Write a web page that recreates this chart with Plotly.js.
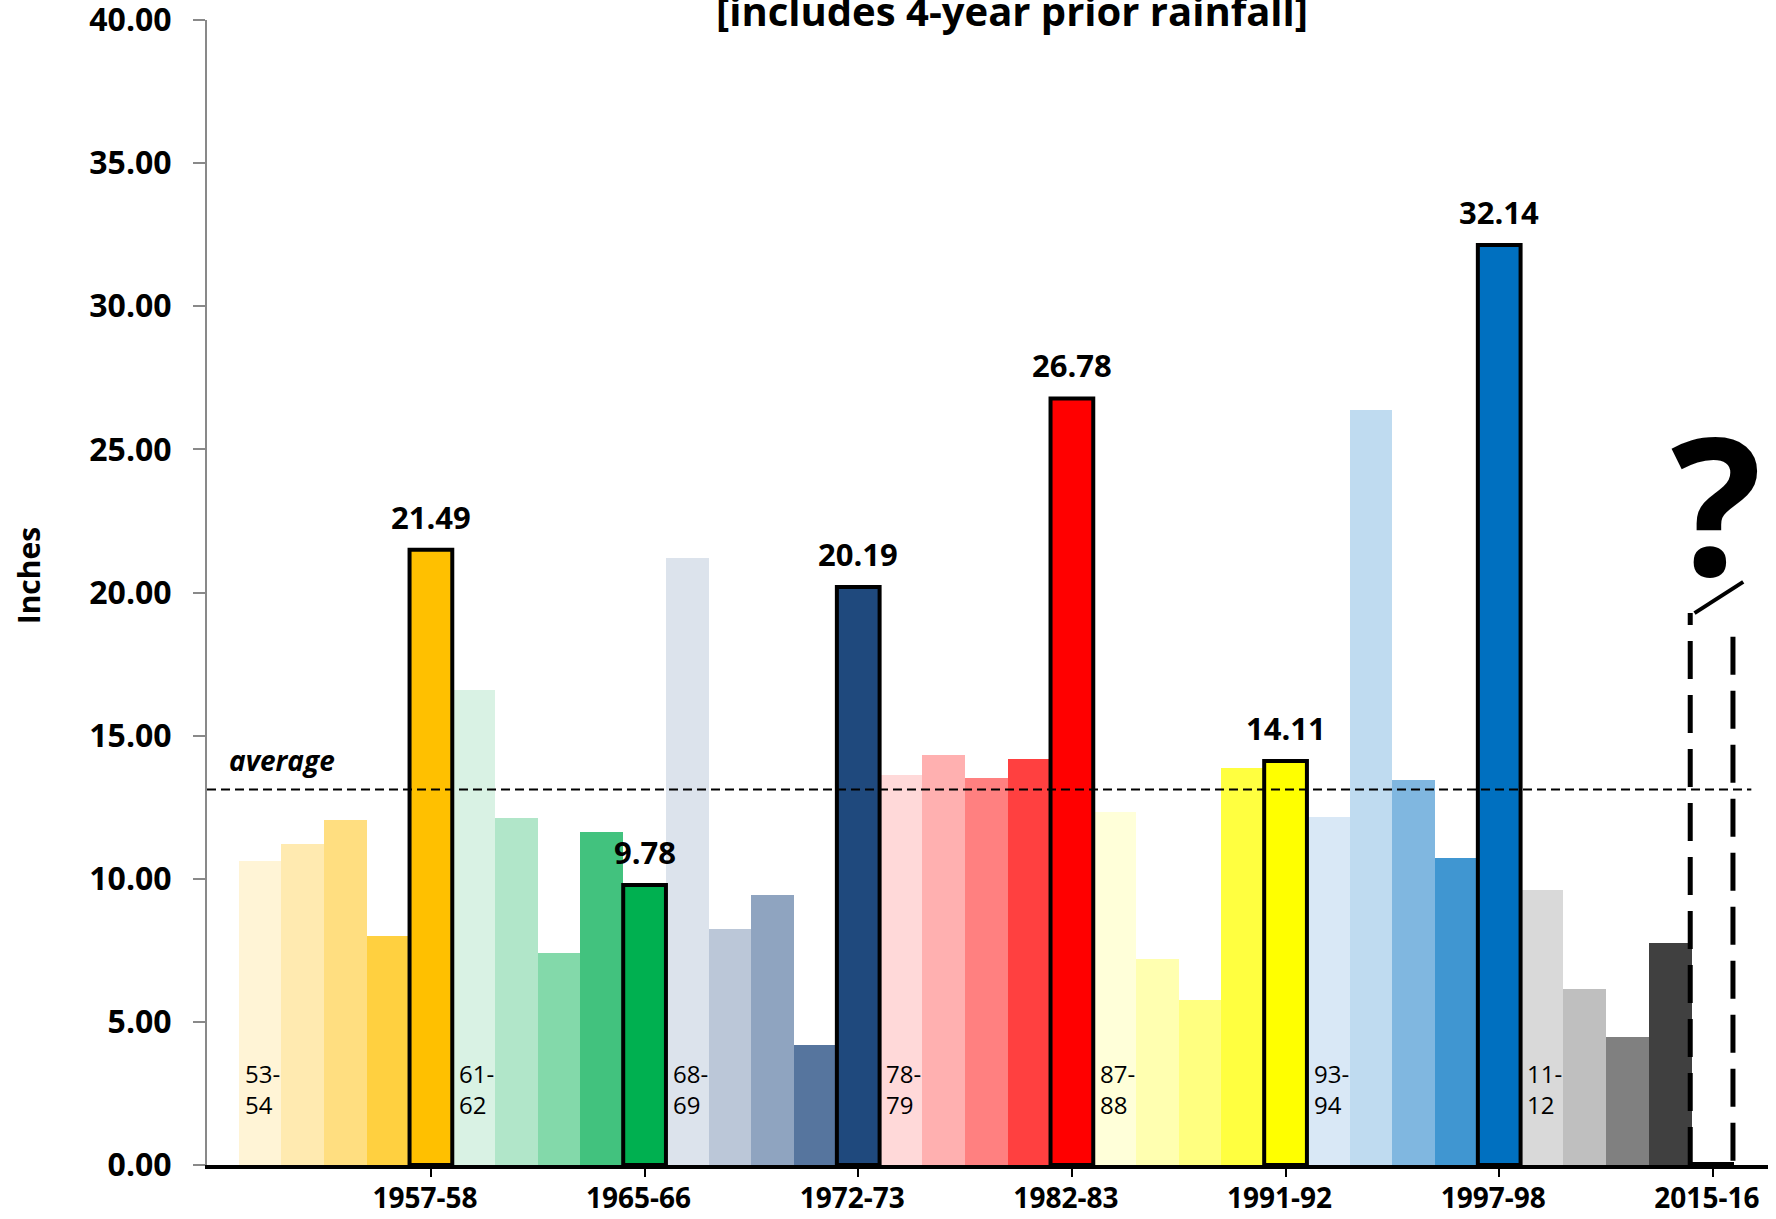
<!DOCTYPE html>
<html>
<head>
<meta charset="utf-8">
<script src="https://cdn.plot.ly/plotly-3.0.1.min.js"></script>
<style>html,body{margin:0;padding:0;background:#fff;}#chart{width:1776px;height:1219px;}</style>
</head>
<body>
<div id="chart"></div>
<script>
// ---- data ----
const seasons = [
  "1953-54","1954-55","1955-56","1956-57","1957-58",
  "1961-62","1962-63","1963-64","1964-65","1965-66",
  "1968-69","1969-70","1970-71","1971-72","1972-73",
  "1978-79","1979-80","1980-81","1981-82","1982-83",
  "1987-88","1988-89","1989-90","1990-91","1991-92",
  "1993-94","1994-95","1995-96","1996-97","1997-98",
  "2011-12","2012-13","2013-14","2014-15","2015-16"
];
const rainfall = [
  10.62, 11.21, 12.05, 8.01, 21.49,
  16.61, 12.12, 7.41, 11.63, 9.78,
  21.21, 8.25, 9.43, 4.20, 20.19,
  13.64, 14.31, 13.52, 14.19, 26.78,
  12.33, 7.21, 5.75, 13.88, 14.11,
  12.17, 26.36, 13.44, 10.74, 32.14,
  9.59, 6.14, 4.48, 7.77, 0.10
];
const barColors = [
  "#FFF4D6","#FFEAB0","#FFDE80","#FFD040","#FFC000",
  "#D9F2E4","#B1E6C9","#83D9AA","#42C27E","#00B050",
  "#DCE3EC","#BBC7D8","#8FA4C0","#56759E","#1F497D",
  "#FFD9D9","#FFB0B0","#FF8080","#FF4040","#FF0000",
  "#FFFFD9","#FFFFB0","#FFFF80","#FFFF40","#FFFF00",
  "#D9E8F6","#BFDBF0","#80B7E0","#4096D1","#0070C0",
  "#D9D9D9","#BFBFBF","#808080","#404040","#000000"
];
const elNinoSeasons = ["1957-58","1965-66","1972-73","1982-83","1991-92","1997-98","2015-16"];
const valueLabelSeasons = ["1957-58","1965-66","1972-73","1982-83","1991-92","1997-98"];
const groupStartSeasons = ["1953-54","1961-62","1968-69","1978-79","1987-88","1993-94","2011-12"];
const groupStartLabels = ["53-<br>54","61-<br>62","68-<br>69","78-<br>79","87-<br>88","93-<br>94","11-<br>12"];
const AVERAGE = 13.12;
const UNKNOWN_LEFT_TOP = 19.28, UNKNOWN_RIGHT_TOP = 19.0;

// ---- traces ----
const isHL = seasons.map(s => valueLabelSeasons.includes(s));
const baseTrace = {
  type: "bar", x: seasons,
  y: rainfall.map((v,i) => isHL[i] ? null : v),
  marker: {color: barColors, line: {width: 0}},
  hoverinfo: "x+y"
};
const hlTrace = {
  type: "bar", x: seasons,
  y: rainfall.map((v,i) => isHL[i] ? v : null),
  marker: {color: barColors, line: {width: 4, color: "#000"}},
  hoverinfo: "x+y"
};

const FONT = "Open Sans, Noto Sans, sans-serif";
const annotations = [];
valueLabelSeasons.forEach(s => {
  const i = seasons.indexOf(s);
  annotations.push({x: i, y: rainfall[i], xref: "x", yref: "y", text: rainfall[i].toFixed(2),
    showarrow: false, yanchor: "bottom", yshift: 10,
    font: {family: FONT, size: 31, color: "#000", weight: "bold"}});
});
groupStartSeasons.forEach((s, k) => {
  const i = seasons.indexOf(s);
  annotations.push({x: i, y: 2.65, xref: "x", yref: "y", text: groupStartLabels[k],
    showarrow: false, xanchor: "center", yanchor: "middle", align: "left", xshift: 3,
    font: {family: FONT, size: 24, color: "#000"}});
});
annotations.push({x: -0.78, y: AVERAGE, xref: "x", yref: "y", text: "<b><i>average</i></b>",
  showarrow: false, xanchor: "left", yanchor: "bottom", yshift: 8,
  font: {family: FONT, size: 28, color: "#000"}});
annotations.push({x: 0.5154, y: 1, xref: "paper", yref: "paper", text: "<b>[includes 4-year prior rainfall]</b>",
  showarrow: false, xanchor: "center", yanchor: "bottom", yshift: -20,
  font: {family: FONT, size: 40, color: "#000"}});
annotations.push({x: -0.1147, y: 0.515, xref: "paper", yref: "paper", text: "<b>Inches</b>",
  showarrow: false, textangle: -90, xanchor: "center", yanchor: "middle",
  font: {family: FONT, size: 30, color: "#000"}});
const qi = seasons.indexOf("2015-16");
annotations.push({x: qi + 0.08, y: 18.6, xref: "x", yref: "y", text: "<b>?</b>",
  showarrow: false, xanchor: "center", yanchor: "bottom",
  font: {family: FONT, size: 190, color: "#000"}});

const shapes = [
  {type: "line", xref: "paper", x0: 0, x1: (34.9 + 1.24) / 36.53, yref: "y", y0: AVERAGE, y1: AVERAGE,
   line: {color: "#000", width: 2, dash: "9px,5px"}},
  {type: "line", xref: "x", yref: "y", x0: qi - 0.53, x1: qi - 0.53, y0: 0, y1: UNKNOWN_LEFT_TOP,
   line: {color: "#000", width: 5, dash: "38px,16px"}},
  {type: "line", xref: "x", yref: "y", x0: qi + 0.47, x1: qi + 0.47, y0: 0.15, y1: UNKNOWN_RIGHT_TOP,
   line: {color: "#000", width: 5, dash: "38px,16px"}},
  {type: "line", xref: "x", yref: "y", x0: qi - 0.43, x1: qi + 0.71, y0: UNKNOWN_LEFT_TOP, y1: 20.37,
   line: {color: "#000", width: 4}}
];

const layout = {
  width: 1776, height: 1219,
  margin: {l: 207, r: 8, t: 20, b: 54, pad: 0},
  paper_bgcolor: "#fff", plot_bgcolor: "#fff",
  font: {family: FONT, color: "#000"},
  showlegend: false,
  barmode: "overlay", bargap: 0,
  xaxis: {
    type: "category", range: [-1.24, 35.29],
    tickvals: elNinoSeasons, ticktext: elNinoSeasons,
    ticks: "outside", ticklen: 8, tickwidth: 2, tickcolor: "#000",
    showline: true, linecolor: "#000", linewidth: 4,
    showgrid: false, zeroline: false,
    tickfont: {family: FONT, size: 28, color: "#000", weight: "bold"},
    ticklabelstandoff: -3, ticklabelshift: -6, ticklabeloverflow: "allow"
  },
  yaxis: {
    range: [0, 40], dtick: 5, tick0: 0, tickformat: ".2f",
    ticks: "outside", ticklen: 12, tickwidth: 2, tickcolor: "#898989",
    showline: true, linecolor: "#898989", linewidth: 2,
    showgrid: false, zeroline: false,
    tickfont: {family: FONT, size: 32, color: "#000", weight: "bold"},
    ticklabelstandoff: 15, ticklabeloverflow: "allow"
  },
  annotations: annotations,
  shapes: shapes
};

Plotly.newPlot("chart", [baseTrace, hlTrace], layout, {displayModeBar: false, staticPlot: true});
</script>
</body>
</html>
